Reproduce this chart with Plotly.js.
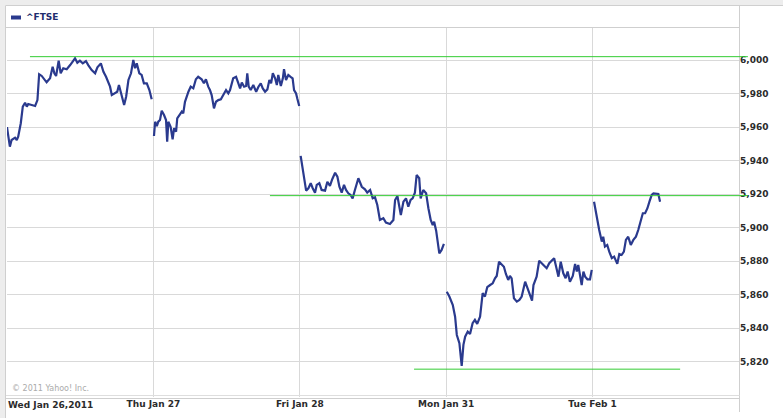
<!DOCTYPE html>
<html>
<head>
<meta charset="utf-8">
<script src="https://cdn.plot.ly/plotly-3.0.1.min.js"></script>
<style>html,body{margin:0;padding:0;background:#fff;}#chart{width:783px;height:418px;}</style>
</head>
<body>
<div id="chart"></div>
<script>
// ---- data ----
var seriesName = '^FTSE';
var dayLabels = ['Wed Jan 26,2011', 'Thu Jan 27', 'Fri Jan 28', 'Mon Jan 31', 'Tue Feb 1'];
var sessionMinutes = 510; // 08:00 - 16:30
var yTicks = [5820, 5840, 5860, 5880, 5900, 5920, 5940, 5960, 5980, 6000];

var wedMin = [0,10,16,28,34,39,48,55,63,69,74,86,98,106,112,121,132,138,150,159,165,171,180,187,196,208,220,231,237,245,254,264,275,283,295,307,315,327,336,345,353,359,365,376,384,390,400,408,415,423,432,440,446,452,461,469,477,487,496,504];
var wedVal = [5960.0,5948.3,5952.3,5953.7,5952.3,5954.3,5962.3,5972.2,5974.5,5972.2,5973.8,5973.2,5972.6,5976.1,5991.5,5990.5,5988.1,5986.7,5989.1,5996.0,5992.1,5990.5,5999.6,5992.1,5995.1,5994.5,5997.0,6000.0,6001.0,5998.4,5999.6,5998.0,5999.4,5997.0,5994.0,5992.1,5995.6,5998.0,5993.0,5990.0,5986.1,5984.1,5979.1,5980.5,5981.1,5985.1,5978.5,5973.2,5978.1,5988.1,5992.1,6000.0,5995.1,5998.0,5992.1,5991.1,5986.1,5986.1,5982.1,5976.6];

var thuMin = [2,6,12,17,23,29,37,44,48,52,60,67,72,79,83,93,99,104,110,122,130,139,148,156,168,176,183,191,197,203,211,218,226,235,244,253,261,267,278,288,296,302,308,316,323,327,332,339,348,358,366,374,381,389,397,404,410,416,424,430,435,444,451,455,462,470,478,485,490,497,501,508];
var thuVal = [5954.7,5963.2,5960.6,5963.2,5964.2,5969.8,5967.2,5964.2,5951.3,5963.2,5960.2,5952.7,5959.3,5957.2,5965.2,5968.2,5969.2,5968.2,5975.1,5981.1,5984.1,5983.1,5988.5,5990.0,5988.5,5986.1,5988.5,5984.1,5982.1,5979.1,5971.2,5975.1,5976.1,5976.6,5979.1,5982.1,5980.1,5982.1,5989.1,5990.0,5986.1,5983.1,5986.5,5984.1,5984.5,5992.1,5984.1,5982.1,5985.1,5981.1,5984.1,5986.1,5983.1,5981.1,5982.5,5988.1,5986.1,5992.1,5989.1,5985.1,5991.1,5984.5,5989.1,5994.5,5988.1,5991.1,5990.0,5989.1,5982.1,5980.1,5977.2,5972.6];

var friMin = [3,12,22,30,38,45,53,59,68,76,88,96,105,113,123,131,138,146,154,161,169,177,184,192,204,216,227,235,245,254,262,270,279,291,300,314,326,332,340,352,361,370,378,386,393,401,407,416,421,430,440,448,456,463,468,475,479,486,494,502];
var friVal = [5942.8,5932.4,5922.1,5923.5,5926.5,5923.5,5920.9,5925.5,5926.5,5922.5,5922.1,5927.4,5924.9,5928.9,5932.8,5930.4,5924.4,5920.9,5925.5,5922.5,5920.5,5919.5,5917.5,5922.5,5929.5,5924.4,5922.9,5920.9,5922.5,5917.5,5918.1,5913.5,5904.6,5905.6,5903.0,5902.2,5904.6,5916.5,5918.9,5907.6,5915.5,5917.5,5912.5,5916.5,5917.5,5920.9,5931.4,5929.5,5917.5,5922.5,5920.5,5911.6,5904.6,5901.6,5903.6,5898.2,5893.1,5884.7,5886.7,5890.3];

var monMin = [2,11,23,31,37,46,54,60,66,75,83,92,100,108,118,127,135,143,153,162,170,176,184,193,201,208,216,222,228,236,246,255,263,275,283,292,299,304,309,315,324,333,341,350,359,368,376,383,391,399,408,416,423,431,441,449,455,460,466,472,478,484,492,501,507];
var monVal = [5861.8,5858.9,5853.9,5846.9,5836.0,5831.1,5817.5,5830.1,5835.0,5838.0,5836.6,5843.0,5845.0,5842.6,5846.9,5860.9,5858.9,5864.5,5865.8,5866.8,5869.8,5871.2,5879.7,5877.8,5876.7,5872.4,5868.8,5871.2,5869.8,5857.9,5855.9,5856.9,5858.9,5867.8,5863.9,5858.9,5856.5,5865.8,5868.8,5870.8,5880.3,5878.8,5877.2,5875.8,5878.8,5880.3,5881.8,5876.7,5870.8,5879.7,5872.8,5869.8,5873.8,5867.8,5871.2,5878.4,5873.8,5877.8,5871.8,5865.8,5873.8,5870.8,5869.2,5869.2,5874.8];

var tueMin = [5,11,16,23,32,37,43,51,58,67,75,82,86,93,101,109,116,124,133,142,151,159,168,175,183,191,198,206,212,221,229,235];
var tueVal = [5915.5,5909.5,5905.6,5898.6,5891.7,5894.6,5888.7,5889.7,5885.7,5881.8,5882.7,5879.7,5878.4,5884.3,5883.7,5885.7,5892.7,5894.6,5889.7,5892.7,5894.6,5898.6,5903.6,5908.6,5908.6,5911.6,5915.5,5919.5,5920.5,5920.1,5920.1,5915.5];

// hand-drawn support/resistance levels (value, start minute, end minute on the session axis)
var levelValues = [6002, 5919.1, 5815.6];
var levelStart = [80, 916, 1418];
var levelEnd = [2581, 2581, 2345];

var copyrightText = '\u00A9 2011 Yahoo! Inc.';

// ---- build ----
var dayMins = [wedMin, thuMin, friMin, monMin, tueMin];
var dayVals = [wedVal, thuVal, friVal, monVal, tueVal];
var xs = [], ys = [];
for (var d = 0; d < dayMins.length; d++) {
  if (d > 0) { xs.push(null); ys.push(null); }
  for (var i = 0; i < dayMins[d].length; i++) {
    xs.push(d * sessionMinutes + dayMins[d][i]);
    ys.push(dayVals[d][i]);
  }
}
var xMax = dayLabels.length * sessionMinutes;
var tickVals = dayLabels.map(function (_, i) { return i * sessionMinutes; });
var tickText = dayLabels.map(function (t, i) { return i === 0 ? '' : t; });

// pixel -> paper helpers (plot area 7..739 x, 27..397 y)
var L = 7, R = 739, T = 27, B = 397;
function px(x) { return (x - L) / (R - L); }
function py(y) { return (B - y) / (B - T); }

var lineColor = '#2a3a8e';
var frame = '#cfcfcf';
var band = '#ededed';
var boldFont = {family: 'DejaVu Sans', size: 9, color: '#2b2b2b', weight: 'bold'};

var shapes = [
  {type: 'rect', xref: 'paper', yref: 'paper', x0: px(0), x1: px(783), y0: py(0), y1: py(5), fillcolor: band, line: {width: 0}},
  {type: 'rect', xref: 'paper', yref: 'paper', x0: px(0), x1: px(5), y0: py(0), y1: py(418), fillcolor: band, line: {width: 0}},
  {type: 'line', xref: 'paper', yref: 'paper', x0: px(5.5), x1: px(783), y0: py(5.5), y1: py(5.5), line: {color: frame, width: 1}},
  {type: 'line', xref: 'paper', yref: 'paper', x0: px(5.5), x1: px(5.5), y0: py(5.5), y1: py(418), line: {color: frame, width: 1}},
  {type: 'line', xref: 'paper', yref: 'paper', x0: px(6), x1: px(739.5), y0: py(27.5), y1: py(27.5), line: {color: frame, width: 1}},
  {type: 'line', xref: 'paper', yref: 'paper', x0: px(739.5), x1: px(739.5), y0: py(5.5), y1: py(412), line: {color: frame, width: 1}},
  {type: 'line', xref: 'paper', yref: 'paper', x0: px(6), x1: px(739.5), y0: py(395.5), y1: py(395.5), line: {color: '#dedede', width: 1}},
  {type: 'line', xref: 'paper', yref: 'paper', x0: px(6), x1: px(739.5), y0: py(398.5), y1: py(398.5), line: {color: frame, width: 1}},
  {type: 'rect', xref: 'paper', yref: 'paper', x0: px(11), x1: px(21), y0: py(19.5), y1: py(15.5), fillcolor: lineColor, line: {width: 0}}
];
for (var k = 0; k < levelValues.length; k++) {
  // x given as a fraction of the time axis so the hand-drawn line may run slightly past the plot edge
  shapes.push({type: 'line', xref: 'paper', yref: 'y', x0: levelStart[k] / xMax, x1: levelEnd[k] / xMax,
    y0: levelValues[k], y1: levelValues[k], line: {color: '#33cc33', width: 1}});
}

var annotations = [
  {xref: 'x', yref: 'paper', x: 0, y: py(405), xanchor: 'left', yanchor: 'middle', xshift: -1, showarrow: false, text: dayLabels[0], font: boldFont},
  {xref: 'paper', yref: 'paper', x: px(24), y: py(17.5), xanchor: 'left', yanchor: 'middle', showarrow: false, text: seriesName,
    font: {family: 'DejaVu Sans', size: 9, color: '#1f2d6e', weight: 'bold'}},
  {xref: 'paper', yref: 'paper', x: px(10), y: py(388), xanchor: 'left', yanchor: 'middle', showarrow: false, text: copyrightText,
    font: {family: 'DejaVu Sans', size: 8, color: '#ababab'}}
];

var trace = {
  type: 'scatter', mode: 'lines', x: xs, y: ys, name: seriesName,
  connectgaps: false, line: {color: lineColor, width: 2.2}, hoverinfo: 'skip'
};

var layout = {
  width: 783, height: 418,
  margin: {l: L, r: 783 - R, t: T, b: 418 - B, pad: 0},
  paper_bgcolor: '#ffffff', plot_bgcolor: '#ffffff',
  showlegend: false,
  xaxis: {
    range: [0, xMax], tickmode: 'array', tickvals: tickVals, ticktext: tickText,
    showgrid: true, gridcolor: '#d9d9d9', gridwidth: 1, zeroline: false, showline: false, ticks: '',
    tickfont: boldFont, fixedrange: true
  },
  yaxis: {
    side: 'right', range: [5799.0, 6019.7], tickmode: 'array', tickvals: yTicks, tickformat: ',.0f',
    showgrid: true, gridcolor: '#d9d9d9', gridwidth: 1, zeroline: false, showline: false, ticks: '',
    tickfont: boldFont, fixedrange: true
  },
  shapes: shapes,
  annotations: annotations
};

Plotly.newPlot('chart', [trace], layout, {displayModeBar: false, staticPlot: true});
</script>
</body>
</html>
